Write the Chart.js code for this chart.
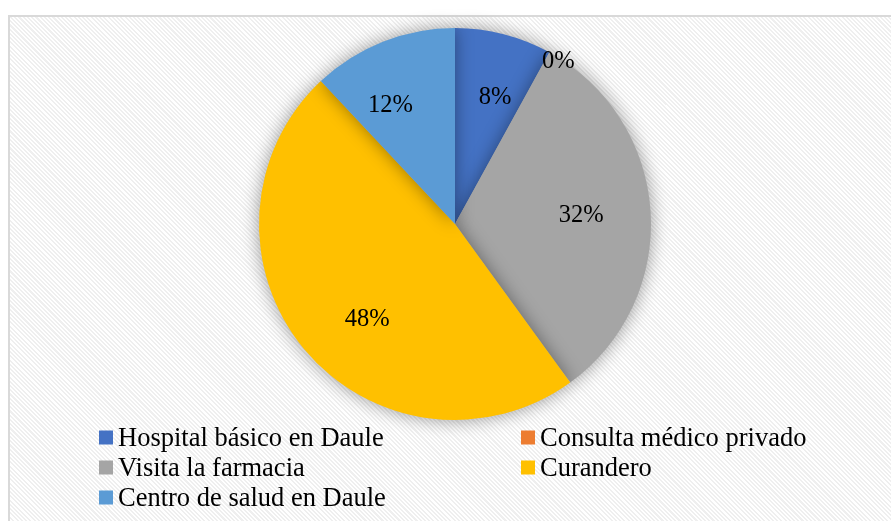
<!DOCTYPE html>
<html><head><meta charset="utf-8">
<script src="https://cdn.jsdelivr.net/npm/chart.js@4"></script>
<style>
html,body{margin:0;padding:0;background:#fff;width:891px;height:521px;overflow:hidden;}
#frame{position:absolute;left:8px;top:15px;width:900px;height:520px;border:2px solid #d9d9d9;box-sizing:border-box;
background:repeating-linear-gradient(45deg,#ffffff 0px,#ffffff 1.5px,#efefef 1.5px,#efefef 3px);}
#wrap{position:absolute;left:0;top:0;width:891px;height:521px;}
</style></head>
<body>
<div id="frame"></div>
<div id="wrap"><canvas id="c" width="891" height="521"></canvas></div>
<script>
const categories = ["Hospital básico en Daule","Consulta médico privado","Visita la farmacia","Curandero","Centro de salud en Daule"];
const values = [8, 0, 32, 48, 12];
const valueLabels = ["8%","0%","32%","48%","12%"];
const colors = ["#4472C4","#ED7D31","#A5A5A5","#FFC000","#5B9BD5"];

const LABEL_FONT = '24.5px "Liberation Serif", "Times New Roman", serif';
const LEGEND_FONT = '26.5px "Liberation Serif", "Times New Roman", serif';
// small placement nudges mimicking Excel's best-fit label placement
const labelNudge = [[8,-1.5],[9,9],[-3,-0.5],[12,13],[-17,1.5]];

const shadowPlugin = {
  id:'shadow',
  beforeDatasetsDraw(chart){
    const ctx = chart.ctx; ctx.save();
    ctx.shadowColor='rgba(0,0,0,0.4)'; ctx.shadowBlur=18; ctx.shadowOffsetX=0; ctx.shadowOffsetY=0;
  },
  afterDatasetsDraw(chart){ chart.ctx.restore(); }
};

const labelPlugin = {
  id:'labels',
  afterDraw(chart){
    const ctx = chart.ctx;
    const meta = chart.getDatasetMeta(0);
    ctx.save();
    ctx.font = LABEL_FONT; ctx.fillStyle='#000'; ctx.textAlign='center'; ctx.textBaseline='middle';
    meta.data.forEach((arc,i)=>{
      const p = arc.getProps(['x','y','startAngle','endAngle','outerRadius'],true);
      const mid = (p.startAngle+p.endAngle)/2;
      const f = values[i]===0 ? 1.0 : 0.66;
      const r = p.outerRadius*f;
      const x = p.x + Math.cos(mid)*r + labelNudge[i][0];
      const y = p.y + Math.sin(mid)*r + labelNudge[i][1];
      ctx.fillText(valueLabels[i], x, y);
    });
    // legend
    const rows = [[0,1],[2,3],[4]];
    const colX = [99, 521];
    const rowY = [437.5, 467.5, 497.5];
    ctx.font = LEGEND_FONT;
    ctx.textAlign='left';
    rows.forEach((row,ri)=>{
      row.forEach((idx,ci)=>{
        ctx.fillStyle = colors[idx];
        ctx.fillRect(colX[ci], rowY[ri]-7, 14, 14);
        ctx.fillStyle='#000';
        ctx.textBaseline='alphabetic';
        ctx.fillText(categories[idx], colX[ci]+19, rowY[ri]+8.5);
      });
    });
    ctx.restore();
  }
};

new Chart(document.getElementById('c'), {
  type:'pie',
  data:{labels:categories, datasets:[{data:values, backgroundColor:colors, borderWidth:0}]},
  options:{
    responsive:false, animation:false,
    layout:{padding:{left:259, right:240, top:28, bottom:101}},
    plugins:{legend:{display:false}, tooltip:{enabled:false}}
  },
  plugins:[shadowPlugin, labelPlugin]
});
</script>
</body></html>
